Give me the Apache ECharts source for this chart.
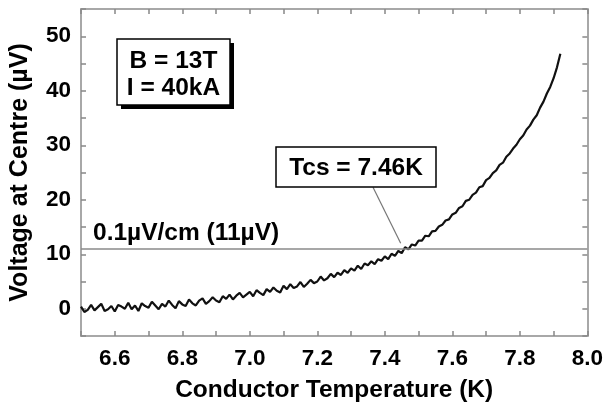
<!DOCTYPE html>
<html>
<head>
<meta charset="utf-8">
<script src="https://cdn.jsdelivr.net/npm/echarts@6/dist/echarts.min.js"></script>
<style>html,body{margin:0;padding:0;background:#fff}#c{width:606px;height:408px}</style>
</head>
<body>
<div id="c"></div>
<script>
// Temperature (K)
var temps = [6.50,6.51,6.52,6.53,6.54,6.55,6.56,6.57,6.58,6.59,
6.60,6.61,6.62,6.63,6.64,6.65,6.66,6.67,6.68,6.69,
6.70,6.71,6.72,6.73,6.74,6.75,6.76,6.77,6.78,6.79,
6.80,6.81,6.82,6.83,6.84,6.85,6.86,6.87,6.88,6.89,
6.90,6.91,6.92,6.93,6.94,6.95,6.96,6.97,6.98,6.99,
7.00,7.01,7.02,7.03,7.04,7.05,7.06,7.07,7.08,7.09,
7.10,7.11,7.12,7.13,7.14,7.15,7.16,7.17,7.18,7.19,
7.20,7.21,7.22,7.23,7.24,7.25,7.26,7.27,7.28,7.29,
7.30,7.31,7.32,7.33,7.34,7.35,7.36,7.37,7.38,7.39,
7.40,7.41,7.42,7.43,7.44,7.45,7.46,7.47,7.48,7.49,
7.50,7.51,7.52,7.53,7.54,7.55,7.56,7.57,7.58,7.59,
7.60,7.61,7.62,7.63,7.64,7.65,7.66,7.67,7.68,7.69,
7.70,7.71,7.72,7.73,7.74,7.75,7.76,7.77,7.78,7.79,
7.80,7.81,7.82,7.83,7.84,7.85,7.86,7.87,7.88,7.89,
7.90,7.91,7.92];
// Voltage at centre (µV)
var voltages = [0.4,-0.6,-0.2,0.7,-0.3,0.3,0.9,-0.4,-0.1,0.5,
-0.5,0.7,0.4,0.0,1.1,-0.1,0.6,-0.4,1.0,0.5,
0.2,1.3,0.6,-0.1,0.9,0.4,1.5,0.7,0.1,1.4,
0.8,0.5,1.7,1.0,0.6,1.5,1.9,0.9,1.4,2.1,
1.5,1.2,2.3,1.8,2.6,1.7,2.4,2.9,2.1,2.6,
3.1,2.3,3.4,2.9,2.5,3.6,3.1,3.9,3.3,3.0,
4.2,3.6,4.5,3.8,4.1,4.9,4.0,4.6,5.3,4.7,
5.0,5.9,5.2,5.6,6.4,5.8,6.6,6.2,7.1,6.6,
7.4,7.0,7.9,7.3,8.3,8.0,8.7,8.2,9.1,8.8,
9.6,9.1,10.1,9.7,10.6,10.2,11.3,10.9,11.8,11.6,
12.5,12.5,13.4,13.3,14.2,14.3,15.1,15.4,16.2,16.4,
17.3,17.6,18.5,18.8,19.8,20.0,20.9,21.3,22.3,22.5,
23.6,24.0,24.9,25.4,26.4,26.8,27.9,28.5,29.4,30.1,
31.1,31.8,32.9,33.6,34.7,35.5,36.9,38.0,39.5,40.7,
42.3,44.3,46.8];
var criterionV = 11;            // 0.1 µV/cm criterion (11 µV)
var pointerFrom = [7.365, 22.3]; // annotation pointer start
var pointerTo = [7.447, 12.0];   // annotation pointer end
var xLabels = ['6.6','6.8','7.0','7.2','7.4','7.6','7.8','8.0'];
var yLabels = ['0','10','20','30','40','50'];

var FONT = '"Liberation Sans", Arial, sans-serif';
var axisGrey = '#a8a8a8';

var chart = echarts.init(document.getElementById('c'), null, {renderer: 'canvas'});

function xFmt(v) { var s = v.toFixed(1); return xLabels.indexOf(s) >= 0 ? s : ''; }
function yFmt(v) { var s = String(Math.round(v)); return (Math.abs(v - Math.round(v)) < 1e-6 && yLabels.indexOf(s) >= 0) ? s : ''; }

var baseX = {
  type: 'value', min: 6.5, max: 8.0, interval: 0.1,
  axisLine: {show: true, onZero: false, lineStyle: {color: axisGrey, width: 2}},
  axisTick: {show: true, inside: true, length: 5, lineStyle: {color: '#888', width: 1.5}},
  splitLine: {show: false}
};
var baseY = {
  type: 'value', min: -5, max: 55, interval: 5,
  axisLine: {show: true, onZero: false, lineStyle: {color: axisGrey, width: 2}},
  axisTick: {show: true, inside: true, length: 5, lineStyle: {color: '#888', width: 1.5}},
  splitLine: {show: false}
};

var option = {
  animation: false,
  backgroundColor: '#fff',
  grid: {left: 78, right: 16, top: 9, bottom: 72},
  xAxis: [
    Object.assign({}, baseX, {
      position: 'bottom',
      name: 'Conductor Temperature (K)', nameLocation: 'middle', nameGap: 42,
      nameTextStyle: {fontFamily: FONT, fontWeight: 'bold', fontSize: 24.5, color: '#000'},
      axisLabel: {show: true, formatter: xFmt, margin: 11, fontFamily: FONT, fontWeight: 'bold', fontSize: 22.5, color: '#000', showMaxLabel: true, showMinLabel: true, hideOverlap: false}
    }),
    Object.assign({}, baseX, {position: 'top', axisLabel: {show: false}})
  ],
  yAxis: [
    Object.assign({}, baseY, {
      position: 'left',
      name: 'Voltage at Centre (\u00b5V)', nameLocation: 'middle', nameGap: 48,
      nameTextStyle: {fontFamily: FONT, fontWeight: 'bold', fontSize: 25, color: '#000'},
      axisLabel: {show: true, formatter: yFmt, margin: 10, fontFamily: FONT, fontWeight: 'bold', fontSize: 22.5, color: '#000', showMaxLabel: true, showMinLabel: true, hideOverlap: false}
    }),
    Object.assign({}, baseY, {position: 'right', axisLabel: {show: false}})
  ],
  series: [{
    type: 'line',
    xAxisIndex: 0, yAxisIndex: 0,
    data: temps.map(function (t, i) { return [t, voltages[i]]; }),
    showSymbol: false,
    symbol: 'none',
    lineStyle: {color: '#111', width: 2.2},
    z: 3,
    markLine: {
      silent: true,
      symbol: ['none', 'none'],
      label: {show: false},
      animation: false,
      data: [
        [{coord: [6.5, criterionV], lineStyle: {color: '#8a8a8a', width: 1.5, type: 'solid'}}, {coord: [8.0, criterionV]}],
        [{coord: pointerFrom, lineStyle: {color: '#777', width: 1.2, type: 'solid'}}, {coord: pointerTo}]
      ]
    }
  }],
  graphic: [
    {type: 'rect', shape: {x: 121, y: 43, width: 113, height: 66}, style: {fill: '#000'}, z: 10},
    {type: 'rect', shape: {x: 117, y: 39, width: 113, height: 66}, style: {fill: '#fff', stroke: '#000', lineWidth: 1.5}, z: 11},
    {type: 'text', x: 173.5, y: 61, style: {text: 'B = 13T', font: 'bold 24.5px ' + FONT, fill: '#000', align: 'center', verticalAlign: 'middle'}, z: 12},
    {type: 'text', x: 173.5, y: 88, style: {text: 'I = 40kA', font: 'bold 24.5px ' + FONT, fill: '#000', align: 'center', verticalAlign: 'middle'}, z: 12},
    {type: 'rect', shape: {x: 276, y: 147, width: 160, height: 40}, style: {fill: '#fff', stroke: '#000', lineWidth: 1.5}, z: 11},
    {type: 'text', x: 356, y: 168, style: {text: 'Tcs = 7.46K', font: 'bold 24.5px ' + FONT, fill: '#000', align: 'center', verticalAlign: 'middle'}, z: 12},
    {type: 'text', x: 93, y: 233, style: {text: '0.1\u00b5V/cm (11\u00b5V)', font: 'bold 24.5px ' + FONT, fill: '#000', align: 'left', verticalAlign: 'middle'}, z: 12}
  ]
};
chart.setOption(option);
</script>
</body>
</html>
